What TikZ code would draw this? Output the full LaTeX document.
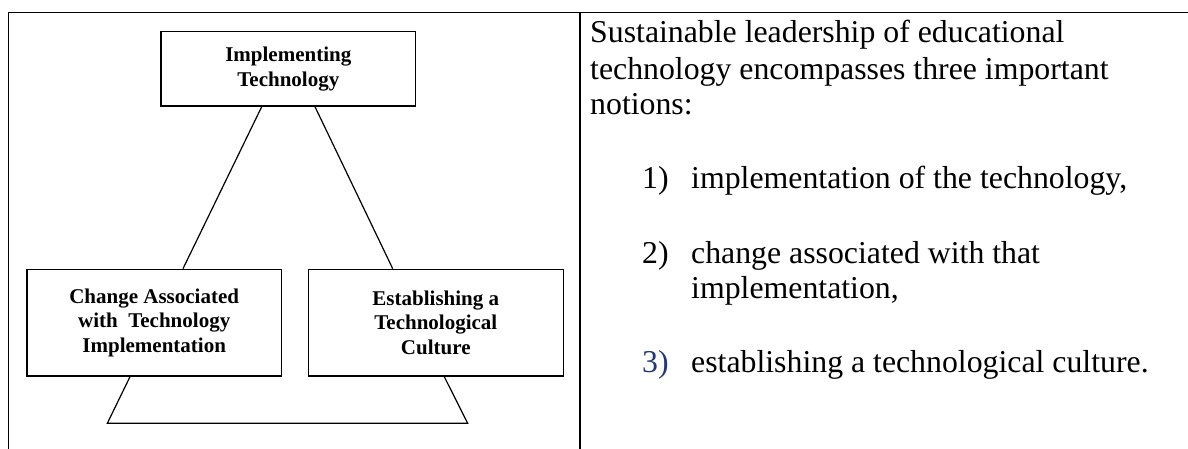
\documentclass[tikz,border=0pt]{standalone}
\usepackage{fontspec}
\setmainfont{Liberation Serif}
\usetikzlibrary{calc}
\definecolor{navy}{RGB}{31,56,120}
\tikzset{
  conceptbox/.style={draw, line width=1.4pt, rectangle, align=center,
    minimum width=254.8pt, inner sep=0pt,
    font=\fontsize{21}{24.5}\selectfont\bfseries},
  link/.style={line width=1.2pt},
  rule/.style={line width=1.6pt},
  body/.style={anchor=base west, inner sep=0pt,
    font=\fontsize{31.8}{36.5}\selectfont},
}
\begin{document}
\begin{tikzpicture}[x=1pt,y=-1pt]
\useasboundingbox (0,0) rectangle (1188,449);

% table frame
\draw[rule] (8.3,449) -- (8.3,12.7) -- (1188,12.7);
\draw[line width=2pt] (580,12.7) -- (580,449);

% three concept boxes
\node[conceptbox, minimum height=74.3pt] (impl) at (288.3,68.9)
  {Implementing\\Technology};
\node[conceptbox, minimum height=106.7pt] (change) at (154.2,322.7)
  {Change Associated\\with\ \ Technology\\Implementation};
\node[conceptbox, minimum height=106.7pt] (culture) at (435.8,322.7)
  {Establishing a\\Technological\\Culture};

% connectors
\draw[link] ([xshift=-26.6pt]impl.south) -- ([xshift=28.8pt]change.north);
\draw[link] ([xshift=26.7pt]impl.south) -- ([xshift=-43.1pt]culture.north);
\coordinate (bl) at (107.3,423.3);
\coordinate (br) at (467.7,423.3);
\draw[link] ([xshift=-24.2pt]change.south) -- (bl) -- (br)
  -- ([xshift=8.5pt]culture.south);

% description text
\node[body] (l1) at (590,42.7) {Sustainable leadership of educational};
\node[body] (l2) at (590,79.3) {technology encompasses three important};
\node[body] (l3) at (590,115) {notions:};
\node[body] (n1) at (642,188.3) {1)};
\node[body] (t1) at (691,188.3) {implementation of the technology,};
\node[body] (n2) at (642,263.3) {2)};
\node[body] (t2a) at (691,263.3) {change associated with that};
\node[body] (t2b) at (691,298.3) {implementation,};
\node[body, text=navy] (n3) at (642,372.7) {3)};
\node[body] (t3) at (691,372.7) {establishing a technological culture.};
\end{tikzpicture}
\end{document}
